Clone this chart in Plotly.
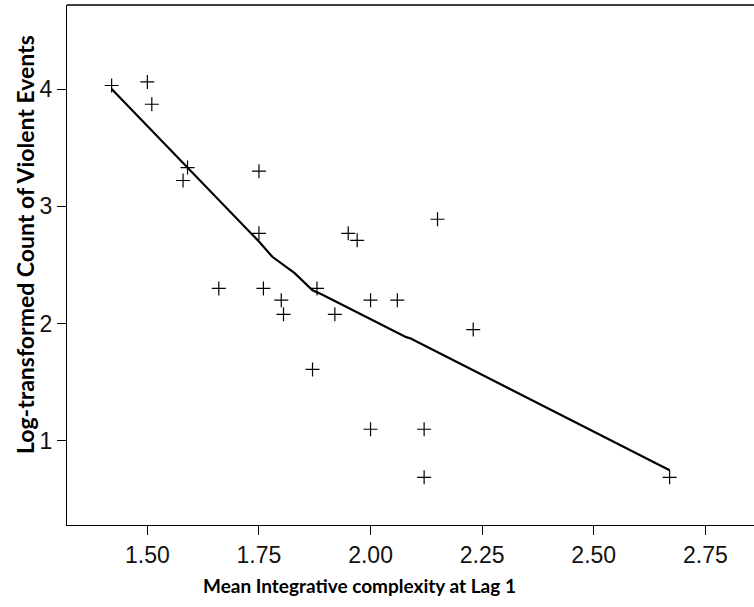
import plotly.graph_objects as go

# Scatter data: mean integrative complexity (lag 1) vs log-transformed count of violent events
complexity = [1.42, 1.50, 1.51, 1.59, 1.58, 1.75, 1.75, 1.66, 1.76, 1.80,
              2.15, 1.95, 1.97, 1.88, 1.805, 1.92, 2.00, 2.06, 2.23,
              1.87, 2.00, 2.12, 2.12, 2.67]
log_violence = [4.03, 4.06, 3.87, 3.33, 3.22, 3.30, 2.77, 2.30, 2.30, 2.20,
                2.89, 2.77, 2.71, 2.30, 2.08, 2.08, 2.20, 2.20, 1.95,
                1.61, 1.10, 1.10, 0.69, 0.69]

# Fit line (loess-type) vertices
fit_x = [1.42, 1.59, 1.75, 1.78, 1.83, 1.87, 1.89, 2.08, 2.09, 2.67]
fit_y = [4.00, 3.33, 2.70, 2.57, 2.43, 2.285, 2.25, 1.885, 1.873, 0.75]

x_ticks = [1.50, 1.75, 2.00, 2.25, 2.50, 2.75]
x_tick_labels = ["1.50", "1.75", "2.00", "2.25", "2.50", "2.75"]
y_ticks = [1, 2, 3, 4]
y_tick_labels = ["1", "2", "3", "4"]

x_title = "Mean Integrative complexity at Lag 1"
y_title = "Log-transformed Count of Violent Events"

W, H = 754, 607
ML, MR, MT, MB = 67, 0, 5, 82
PW = W - ML - MR
PH = H - MT - MB

fig = go.Figure()
fig.add_trace(go.Scatter(
    x=fit_x, y=fit_y, mode="lines",
    line=dict(color="black", width=2.2), hoverinfo="skip", showlegend=False))
fig.add_trace(go.Scatter(
    x=complexity, y=log_violence, mode="markers",
    marker=dict(symbol="cross-thin", size=10, line=dict(color="black", width=1.2)),
    showlegend=False))

tickfont = dict(size=23, family="Liberation Sans, Arial", color="#111")
fig.update_layout(
    width=W, height=H,
    margin=dict(l=ML, r=MR, t=MT, b=MB),
    paper_bgcolor="white", plot_bgcolor="white",
    font=dict(family="Liberation Sans, Arial", color="black"),
    xaxis=dict(
        range=[1.320, 2.859], tickvals=x_ticks, ticktext=x_tick_labels,
        showgrid=False, zeroline=False, showline=True, linecolor="black", linewidth=1.3,
        ticks="outside", ticklen=9, tickwidth=1.3, tickcolor="black",
        tickfont=tickfont, automargin=False,
    ),
    yaxis=dict(
        range=[0.284, 4.716], tickvals=y_ticks, ticktext=y_tick_labels,
        showgrid=False, zeroline=False, showline=True, linecolor="black", linewidth=1.3,
        ticks="outside", ticklen=9, tickwidth=1.3, tickcolor="black",
        tickfont=tickfont, automargin=False,
    ),
    shapes=[dict(type="line", xref="paper", yref="paper", x0=0, x1=1, y0=1, y1=1,
                 line=dict(color="black", width=1.3))],
    annotations=[
        dict(text="<b>" + x_title + "</b>", xref="paper", yref="paper",
             x=(359 - ML) / PW, y=-(585 - (MT + PH)) / PH, xanchor="center", yanchor="middle",
             showarrow=False, font=dict(size=19, family="Lato, Open Sans", color="black")),
        dict(text="<b>" + y_title + "</b>", xref="paper", yref="paper",
             x=(25 - ML) / PW, y=(H - 245 - MB) / PH, xanchor="center", yanchor="middle",
             textangle=-90, showarrow=False,
             font=dict(size=23, family="Lato, Open Sans", color="black")),
    ],
)

fig.write_html("out.html", config={"displayModeBar": False},
               post_script="document.body.style.margin='0px';")
